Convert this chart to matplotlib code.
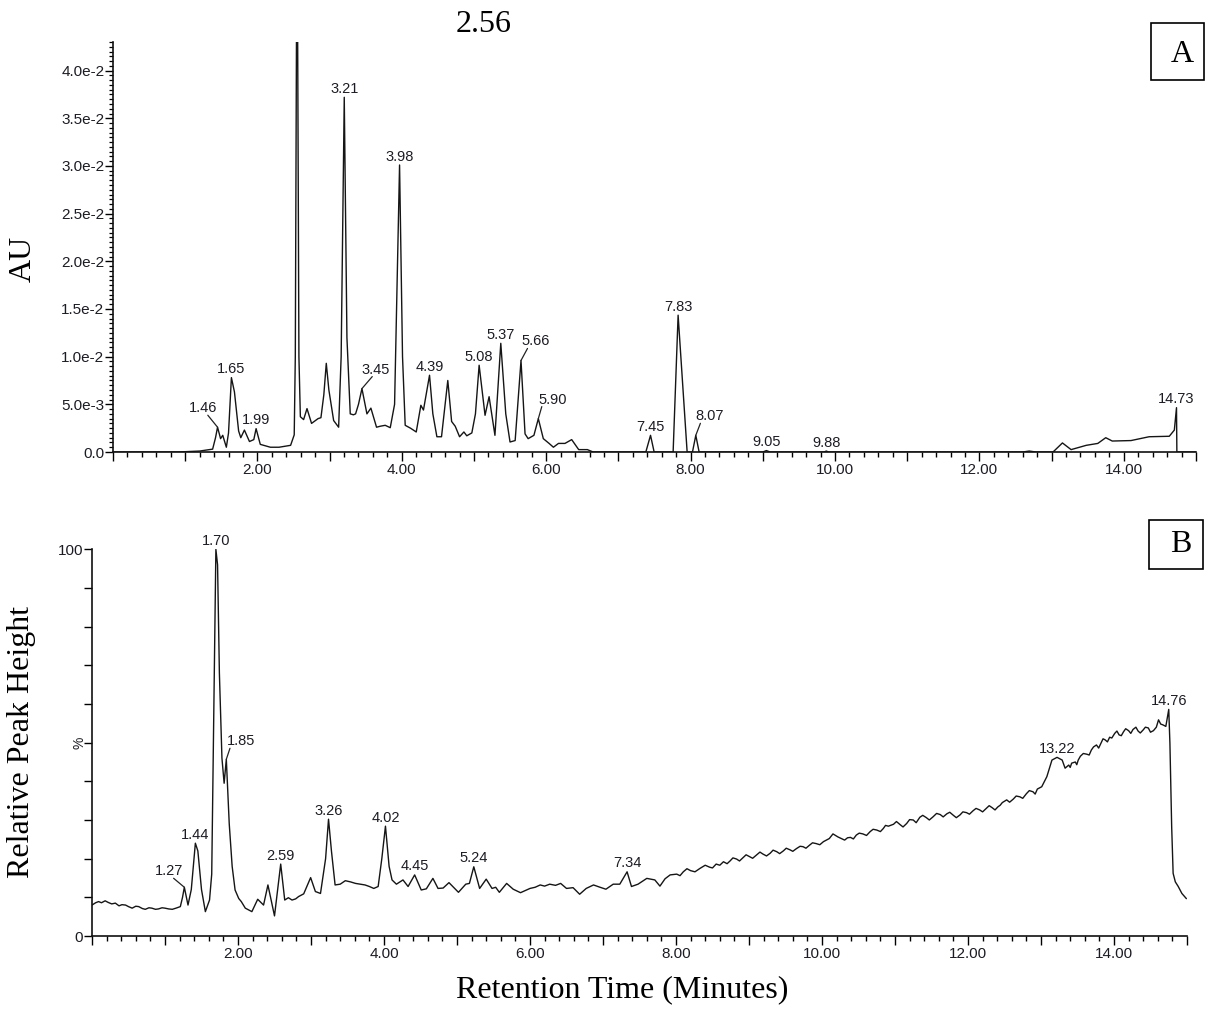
import numpy as np
import matplotlib
matplotlib.use("Agg")
import matplotlib.pyplot as plt
from matplotlib.patches import Rectangle
from matplotlib.ticker import MultipleLocator, FixedLocator, FixedFormatter, FuncFormatter

# ---------------- data: panel A (UV, values in mAU) ----------------
a_time = [0.00, 0.90, 1.20, 1.38, 1.42, 1.448, 1.49, 1.52, 1.57, 1.60, 1.64, 1.682, 1.74, 1.77,
          1.82, 1.89, 1.95, 1.982, 2.04, 2.18, 2.30, 2.46, 2.51, 2.525, 2.549, 2.575, 2.595,
          2.64, 2.687, 2.75, 2.84, 2.88, 2.92, 2.954, 2.99, 3.056, 3.125, 3.16, 3.203, 3.24,
          3.286, 3.33, 3.36, 3.40, 3.448, 3.517, 3.572, 3.65, 3.70, 3.77, 3.84, 3.90, 3.969,
          4.01, 4.047, 4.12, 4.20, 4.264, 4.30, 4.384, 4.43, 4.486, 4.55, 4.637, 4.69, 4.74,
          4.80, 4.86, 4.90, 4.97, 5.02, 5.071, 5.153, 5.209, 5.29, 5.371, 5.44, 5.499, 5.57,
          5.651, 5.707, 5.75, 5.83, 5.891, 5.96, 6.04, 6.10, 6.17, 6.26, 6.353, 6.45, 6.57,
          6.65, 7.38, 7.445, 7.495, 7.758, 7.827, 7.952, 8.026, 8.072, 8.118, 9.00, 9.05,
          9.10, 9.85, 9.88, 9.91, 12.60, 12.69, 12.78, 13.02, 13.15, 13.27, 13.48, 13.64,
          13.75, 13.84, 14.10, 14.35, 14.63, 14.70, 14.73, 14.735, 15.00]
a_mau = [0.0, 0.0, 0.1, 0.3, 1.5, 2.6, 1.4, 1.75, 0.5, 2.0, 7.8, 6.3, 2.2, 1.5,
         2.3, 1.1, 1.3, 2.45, 0.8, 0.5, 0.5, 0.7, 1.8, 10.0, 60.0, 10.0, 3.7,
         3.4, 4.55, 3.0, 3.5, 3.6, 6.0, 9.3, 6.5, 3.3, 2.6, 10.0, 37.2, 12.0,
         4.0, 3.9, 4.0, 5.0, 6.65, 4.0, 4.6, 2.6, 2.7, 2.8, 2.55, 5.0, 30.1,
         10.0, 2.8, 2.5, 2.1, 4.9, 4.4, 8.05, 4.0, 1.6, 1.6, 7.5, 3.2, 2.7,
         1.6, 2.1, 1.7, 2.0, 4.0, 9.1, 3.85, 5.8, 1.75, 11.4, 4.0, 1.05, 1.2,
         9.6, 1.9, 1.4, 1.75, 3.5, 1.4, 0.9, 0.5, 0.9, 0.9, 1.3, 0.25, 0.25,
         0.0, 0.0, 1.75, 0.0, 0.0, 14.35, 0.0, 0.0, 1.75, 0.0, 0.0, 0.15,
         0.0, 0.0, 0.1, 0.0, 0.0, 0.1, 0.0, 0.0, 0.95, 0.25, 0.7, 0.9,
         1.5, 1.15, 1.2, 1.6, 1.65, 2.3, 4.65, 0.0, 0.0]

a_labels = ["1.46", "1.65", "1.99", "3.21", "3.45", "3.98", "4.39", "5.08", "5.37",
            "5.66", "5.90", "7.45", "7.83", "8.07", "9.05", "9.88", "14.73"]
a_label_t = [1.448, 1.640, 1.982, 3.203, 3.448, 3.969, 4.384, 5.071, 5.371,
             5.651, 5.891, 7.445, 7.827, 8.072, 9.05, 9.88, 14.73]
a_label_mau = [2.6, 7.8, 2.45, 37.2, 6.65, 30.1, 8.05, 9.1, 11.4,
               9.6, 3.5, 1.75, 14.35, 1.75, 0.15, 0.1, 4.65]

a_yticks = [0.0, 0.005, 0.010, 0.015, 0.020, 0.025, 0.030, 0.035, 0.040]
a_yticklabels = ["0.0", "5.0e-3", "1.0e-2", "1.5e-2", "2.0e-2", "2.5e-2", "3.0e-2", "3.5e-2", "4.0e-2"]

# ---------------- data: panel B (MS TIC, relative %) ----------------
b_time = [0.00, 0.05, 0.09, 0.13, 0.18, 0.22, 0.27, 0.32, 0.37, 0.41, 0.46, 0.50, 0.55, 0.60,
          0.64, 0.69, 0.73, 0.78, 0.82, 0.87, 0.91, 0.96, 1.00, 1.05, 1.10, 1.15, 1.21, 1.24,
          1.265, 1.315, 1.36, 1.416, 1.45, 1.50, 1.553, 1.61, 1.64, 1.67, 1.697, 1.72, 1.745,
          1.78, 1.81, 1.84, 1.88, 1.92, 1.96, 2.01, 2.045, 2.10, 2.19, 2.27, 2.35, 2.41, 2.50,
          2.585, 2.64, 2.69, 2.74, 2.79, 2.83, 2.90, 2.995, 3.06, 3.13, 3.20, 3.24, 3.28, 3.33,
          3.40, 3.47, 3.54, 3.61, 3.68, 3.74, 3.80, 3.86, 3.92, 3.97, 4.02, 4.07, 4.11, 4.17,
          4.26, 4.33, 4.42, 4.51, 4.58, 4.67, 4.74, 4.81, 4.89, 5.02, 5.12, 5.17, 5.23, 5.31,
          5.40, 5.48, 5.53, 5.58, 5.68, 5.77, 5.87, 5.94, 6.00, 6.07, 6.14, 6.20, 6.27, 6.35,
          6.42, 6.50, 6.59, 6.68, 6.77, 6.87, 6.96, 7.04, 7.14, 7.23, 7.33, 7.39, 7.48, 7.60,
          7.71, 7.78, 7.85, 7.92, 8.01, 8.10, 8.20, 8.33, 8.46, 8.55, 8.65, 8.74, 8.83, 8.92,
          9.01, 9.10, 9.19, 9.29, 9.38, 9.47, 9.56, 9.65, 9.74, 9.83, 9.92, 10.02, 10.10,
          10.15, 10.22, 10.31, 10.39, 10.47, 10.56, 10.66, 10.75, 10.84, 10.91, 10.98, 11.07,
          11.16, 11.25, 11.34, 11.43, 11.52, 11.62, 11.71, 11.80, 11.89, 11.98, 12.07, 12.16,
          12.25, 12.33, 12.41, 12.47, 12.53, 12.62, 12.71, 12.80, 12.89, 12.95, 13.01, 13.08,
          13.15, 13.22, 13.29, 13.33, 13.38, 13.42, 13.47, 13.51, 13.58, 13.63, 13.69, 13.76,
          13.82, 13.88, 13.94, 14.01, 14.07, 14.13, 14.20, 14.26, 14.33, 14.40, 14.47, 14.54,
          14.58, 14.61, 14.64, 14.67, 14.71, 14.75, 14.766, 14.79, 14.81, 14.84, 14.88, 14.93,
          14.99]
b_pct = [8.0, 8.6, 8.9, 8.6, 9.1, 8.7, 8.3, 8.5, 7.8, 8.1, 8.0, 7.6, 7.2, 7.7,
         7.6, 7.1, 6.9, 7.3, 7.2, 6.9, 7.0, 7.3, 7.2, 7.0, 6.9, 7.2, 7.6, 10.0,
         12.6, 8.0, 12.0, 24.0, 22.0, 12.0, 6.3, 9.3, 16.0, 60.0, 100.0, 96.0, 68.0,
         46.0, 39.5, 45.7, 29.0, 18.0, 11.9, 9.7, 8.9, 7.2, 6.3, 9.5, 8.0, 13.2, 5.2,
         18.6, 9.3, 9.9, 9.3, 9.6, 10.2, 10.9, 15.1, 11.5, 11.0, 20.0, 30.2, 22.0, 13.2,
         13.4, 14.3, 14.0, 13.6, 13.4, 13.2, 12.8, 12.3, 12.8, 20.0, 28.4, 18.0, 14.5, 13.4,
         14.5, 12.8, 15.8, 11.9, 12.2, 14.9, 12.3, 12.4, 13.8, 11.3, 13.4, 13.6, 17.9, 12.3,
         14.7, 12.3, 12.6, 11.3, 13.6, 12.1, 11.2, 11.8, 12.3, 12.6, 13.2, 12.9, 13.4, 13.1,
         13.6, 12.3, 12.5, 10.8, 12.3, 13.2, 12.6, 12.1, 13.4, 13.4, 16.6, 12.8, 13.4, 14.9,
         14.5, 12.9, 14.8, 15.8, 16.0, 16.6, 16.9, 17.5, 17.8, 18.6, 19.2, 19.4, 19.9, 20.3,
         20.5, 20.9, 21.2, 21.4, 21.8, 22.0, 22.3, 22.6, 23.1, 23.5, 23.9, 24.4, 25.2,
         26.4, 25.6, 24.8, 25.5, 26.1, 26.4, 27.0, 27.4, 27.8, 28.4, 28.9, 28.8,
         29.1, 30.0, 30.7, 30.6, 30.8, 31.4, 31.6, 31.2, 31.3, 31.9, 32.4, 32.6,
         33.0, 33.2, 33.4, 34.5, 35.2, 35.4, 36.0, 36.8, 37.3, 38.0, 38.6, 41.2,
         45.5, 46.2, 45.5, 43.4, 44.2, 44.7, 45.0, 45.5, 47.2, 47.0, 48.1, 49.4,
         49.8, 50.7, 51.4, 52.4, 52.0, 52.8, 53.1, 53.4, 53.0, 53.3, 53.8, 53.1,
         54.0, 55.9, 54.8, 54.6, 54.2, 58.6, 49.8, 28.3, 16.2, 14.0, 12.8, 11.0,
         9.7]
# extra read-off points of the jagged baseline between the main points above
b_time_extra = [8.055, 8.15, 8.26, 8.40, 8.50, 8.60, 8.70, 8.78, 8.87, 8.96, 9.05, 9.15,
                9.24, 9.33, 9.42, 9.51, 9.60, 9.70, 9.78, 9.87, 9.97, 10.35, 10.43, 10.51,
                10.61, 10.70, 10.80, 10.87, 11.02, 11.11, 11.20, 11.29, 11.38, 11.47, 11.57,
                11.66, 11.75, 11.84, 11.93, 12.02, 12.11, 12.20, 12.29, 12.37, 12.44, 12.57,
                12.66, 12.75, 12.84, 12.92, 13.40, 13.49, 13.54, 13.66, 13.72, 13.79, 13.85,
                13.91, 13.97, 14.04, 14.10, 14.16, 14.23, 14.30, 14.36, 14.43, 14.50]
b_pct_extra = [15.6, 17.4, 16.6, 18.3, 17.6, 18.3, 18.7, 20.2, 19.4, 21.0, 20.1, 21.7,
               20.7, 22.2, 21.3, 22.7, 21.9, 23.2, 22.7, 24.1, 23.6, 25.4, 25.1, 26.6,
               26.0, 27.6, 27.0, 28.6, 29.6, 28.2, 30.1, 29.3, 31.2, 30.0, 31.7,
               30.8, 32.0, 30.6, 32.1, 31.5, 33.0, 32.1, 33.7, 32.6, 33.8, 34.6,
               36.2, 35.6, 37.6, 36.7, 43.6, 44.3, 46.5, 46.8, 48.9, 48.6, 51.0,
               50.2, 51.2, 53.0, 51.8, 53.6, 52.4, 54.0, 52.5, 54.0, 52.7]

b_labels = ["1.27", "1.44", "1.70", "1.85", "2.59", "3.26", "4.02", "4.45", "5.24",
            "7.34", "13.22", "14.76"]
b_label_t = [1.265, 1.416, 1.697, 1.84, 2.585, 3.24, 4.02, 4.42, 5.23, 7.33, 13.22, 14.75]
b_label_pct = [12.6, 24.0, 100.0, 45.7, 18.6, 30.2, 28.4, 15.8, 17.9, 16.6, 46.2, 58.6]

b_yticks = [0, 10, 20, 30, 40, 50, 60, 70, 80, 90, 100]
b_yticklabels = ["0", "", "", "", "", "", "", "", "", "", "100"]

# ---------------- figure ----------------
W, H = 1207, 1009
fig = plt.figure(figsize=(W / 100, H / 100), dpi=100)
SANS = "Liberation Sans"
SERIF = "Liberation Serif"
TXT = "#1c1c24"


def rect(l, r, t, b):
    return [l / W, 1 - b / H, (r - l) / W, (b - t) / H]


axA = fig.add_axes(rect(113, 1196, 42, 452))
axB = fig.add_axes(rect(92, 1187, 549.3, 936))


def even_fmt(v, pos):
    k = int(round(v))
    if abs(v - k) < 1e-6 and k % 2 == 0 and 0 < k < 15:
        return f"{v:.2f}"
    return ""


for ax in (axA, axB):
    for s in ("top", "right"):
        ax.spines[s].set_visible(False)
    for s in ("left", "bottom"):
        ax.spines[s].set_linewidth(1.2)
        ax.spines[s].set_color("#111111")
    ax.set_xlim(0, 15)
    ax.xaxis.set_major_locator(MultipleLocator(1))
    ax.xaxis.set_minor_locator(MultipleLocator(0.2))
    ax.xaxis.set_major_formatter(FuncFormatter(even_fmt))
    ax.tick_params(axis="x", which="major", length=6.5, width=1.0, direction="out",
                   pad=1.5, labelsize=11, labelcolor=TXT)
    ax.tick_params(axis="x", which="minor", length=3.4, width=1.0, direction="out")
    ax.tick_params(axis="y", which="major", length=5.8, width=1.0, direction="out",
                   pad=0.5, labelsize=11, labelcolor=TXT)
    ax.tick_params(axis="y", which="minor", length=3.0, width=0.9, direction="out")

# panel A
axA.plot(a_time, np.array(a_mau) * 1e-3, color="#151515", lw=1.0)
axA.set_ylim(0, 0.043)
axA.yaxis.set_major_locator(FixedLocator(a_yticks))
axA.yaxis.set_major_formatter(FixedFormatter(a_yticklabels))
axA.yaxis.set_minor_locator(MultipleLocator(0.0005))

# panel B
bt = np.concatenate([b_time, b_time_extra])
bp = np.concatenate([b_pct, b_pct_extra])
order = np.argsort(bt, kind="stable")
axB.plot(bt[order], bp[order], color="#151515", lw=1.0)
axB.set_ylim(0, 100)
axB.yaxis.set_major_locator(FixedLocator(b_yticks))
axB.yaxis.set_major_formatter(FixedFormatter(b_yticklabels))

for ax in (axA, axB):
    for lab in ax.get_xticklabels() + ax.get_yticklabels():
        lab.set_family(SANS)

axB.annotate("%", xy=(0, 50), xycoords=("axes fraction", "data"), xytext=(-13, 0),
             textcoords="offset pixels", rotation=90, ha="center", va="center",
             fontsize=10, family=SANS, color=TXT)

# peak labels: offsets in pixels (dx, dy) and optional leader-line start on text box
a_offsets = {"1.46": (-14, 19, (0.65, 0)), "3.45": (14, 19, (0.37, 0)),
             "5.66": (15, 19, (0.2, 0)), "5.90": (14, 19, (0.13, 0)),
             "8.07": (14, 19, (0.17, 0))}
b_offsets = {"1.27": (-15, 16, (0.65, 0)), "1.85": (15, 18, (0.1, 0))}


def peak_label(ax, x, y, s, offsets):
    if s in offsets:
        dx, dy, rel = offsets[s]
        arrow = dict(arrowstyle="-", lw=0.9, color="#222222", relpos=rel,
                     patchA=None, shrinkA=0, shrinkB=0)
    else:
        dx, dy, arrow = 0, 8.5, None
    ax.annotate(s, xy=(x, y), xytext=(dx, dy), textcoords="offset pixels",
                ha="center", va="center", fontsize=10.5, family=SANS, color=TXT,
                annotation_clip=False, arrowprops=arrow)


for s, t, v in zip(a_labels, a_label_t, a_label_mau):
    peak_label(axA, t, v * 1e-3, s, a_offsets)
for s, t, v in zip(b_labels, b_label_t, b_label_pct):
    peak_label(axB, t, v, s, b_offsets)


# figure-level texts
def fpx(x, y):
    return x / W, 1 - y / H


fig.text(*fpx(484, 24), "2.56", ha="center", va="center", fontsize=23, family=SERIF)
fig.text(*fpx(23, 259), "AU", ha="center", va="center", rotation=90, fontsize=23, family=SERIF)
fig.text(*fpx(22, 742), "Relative Peak Height", ha="center", va="center", rotation=90,
         fontsize=23, family=SERIF)
fig.text(*fpx(622.5, 990), "Retention Time (Minutes)", ha="center", va="center",
         fontsize=23, family=SERIF)

for (l, t, r, b), letter, (cx, cy) in [((1150.7, 23.3, 1204, 80), "A", (1182.5, 54)),
                                       ((1149.3, 520, 1202.7, 569), "B", (1180.7, 544))]:
    x0, y0 = fpx(l, b)
    fig.add_artist(Rectangle((x0, y0), (r - l) / W, (b - t) / H, transform=fig.transFigure,
                             fill=False, lw=1.2, edgecolor="black"))
    fig.text(*fpx(cx, cy), letter, ha="center", va="center", fontsize=23, family=SERIF)

fig.savefig("out.png", dpi=100)
